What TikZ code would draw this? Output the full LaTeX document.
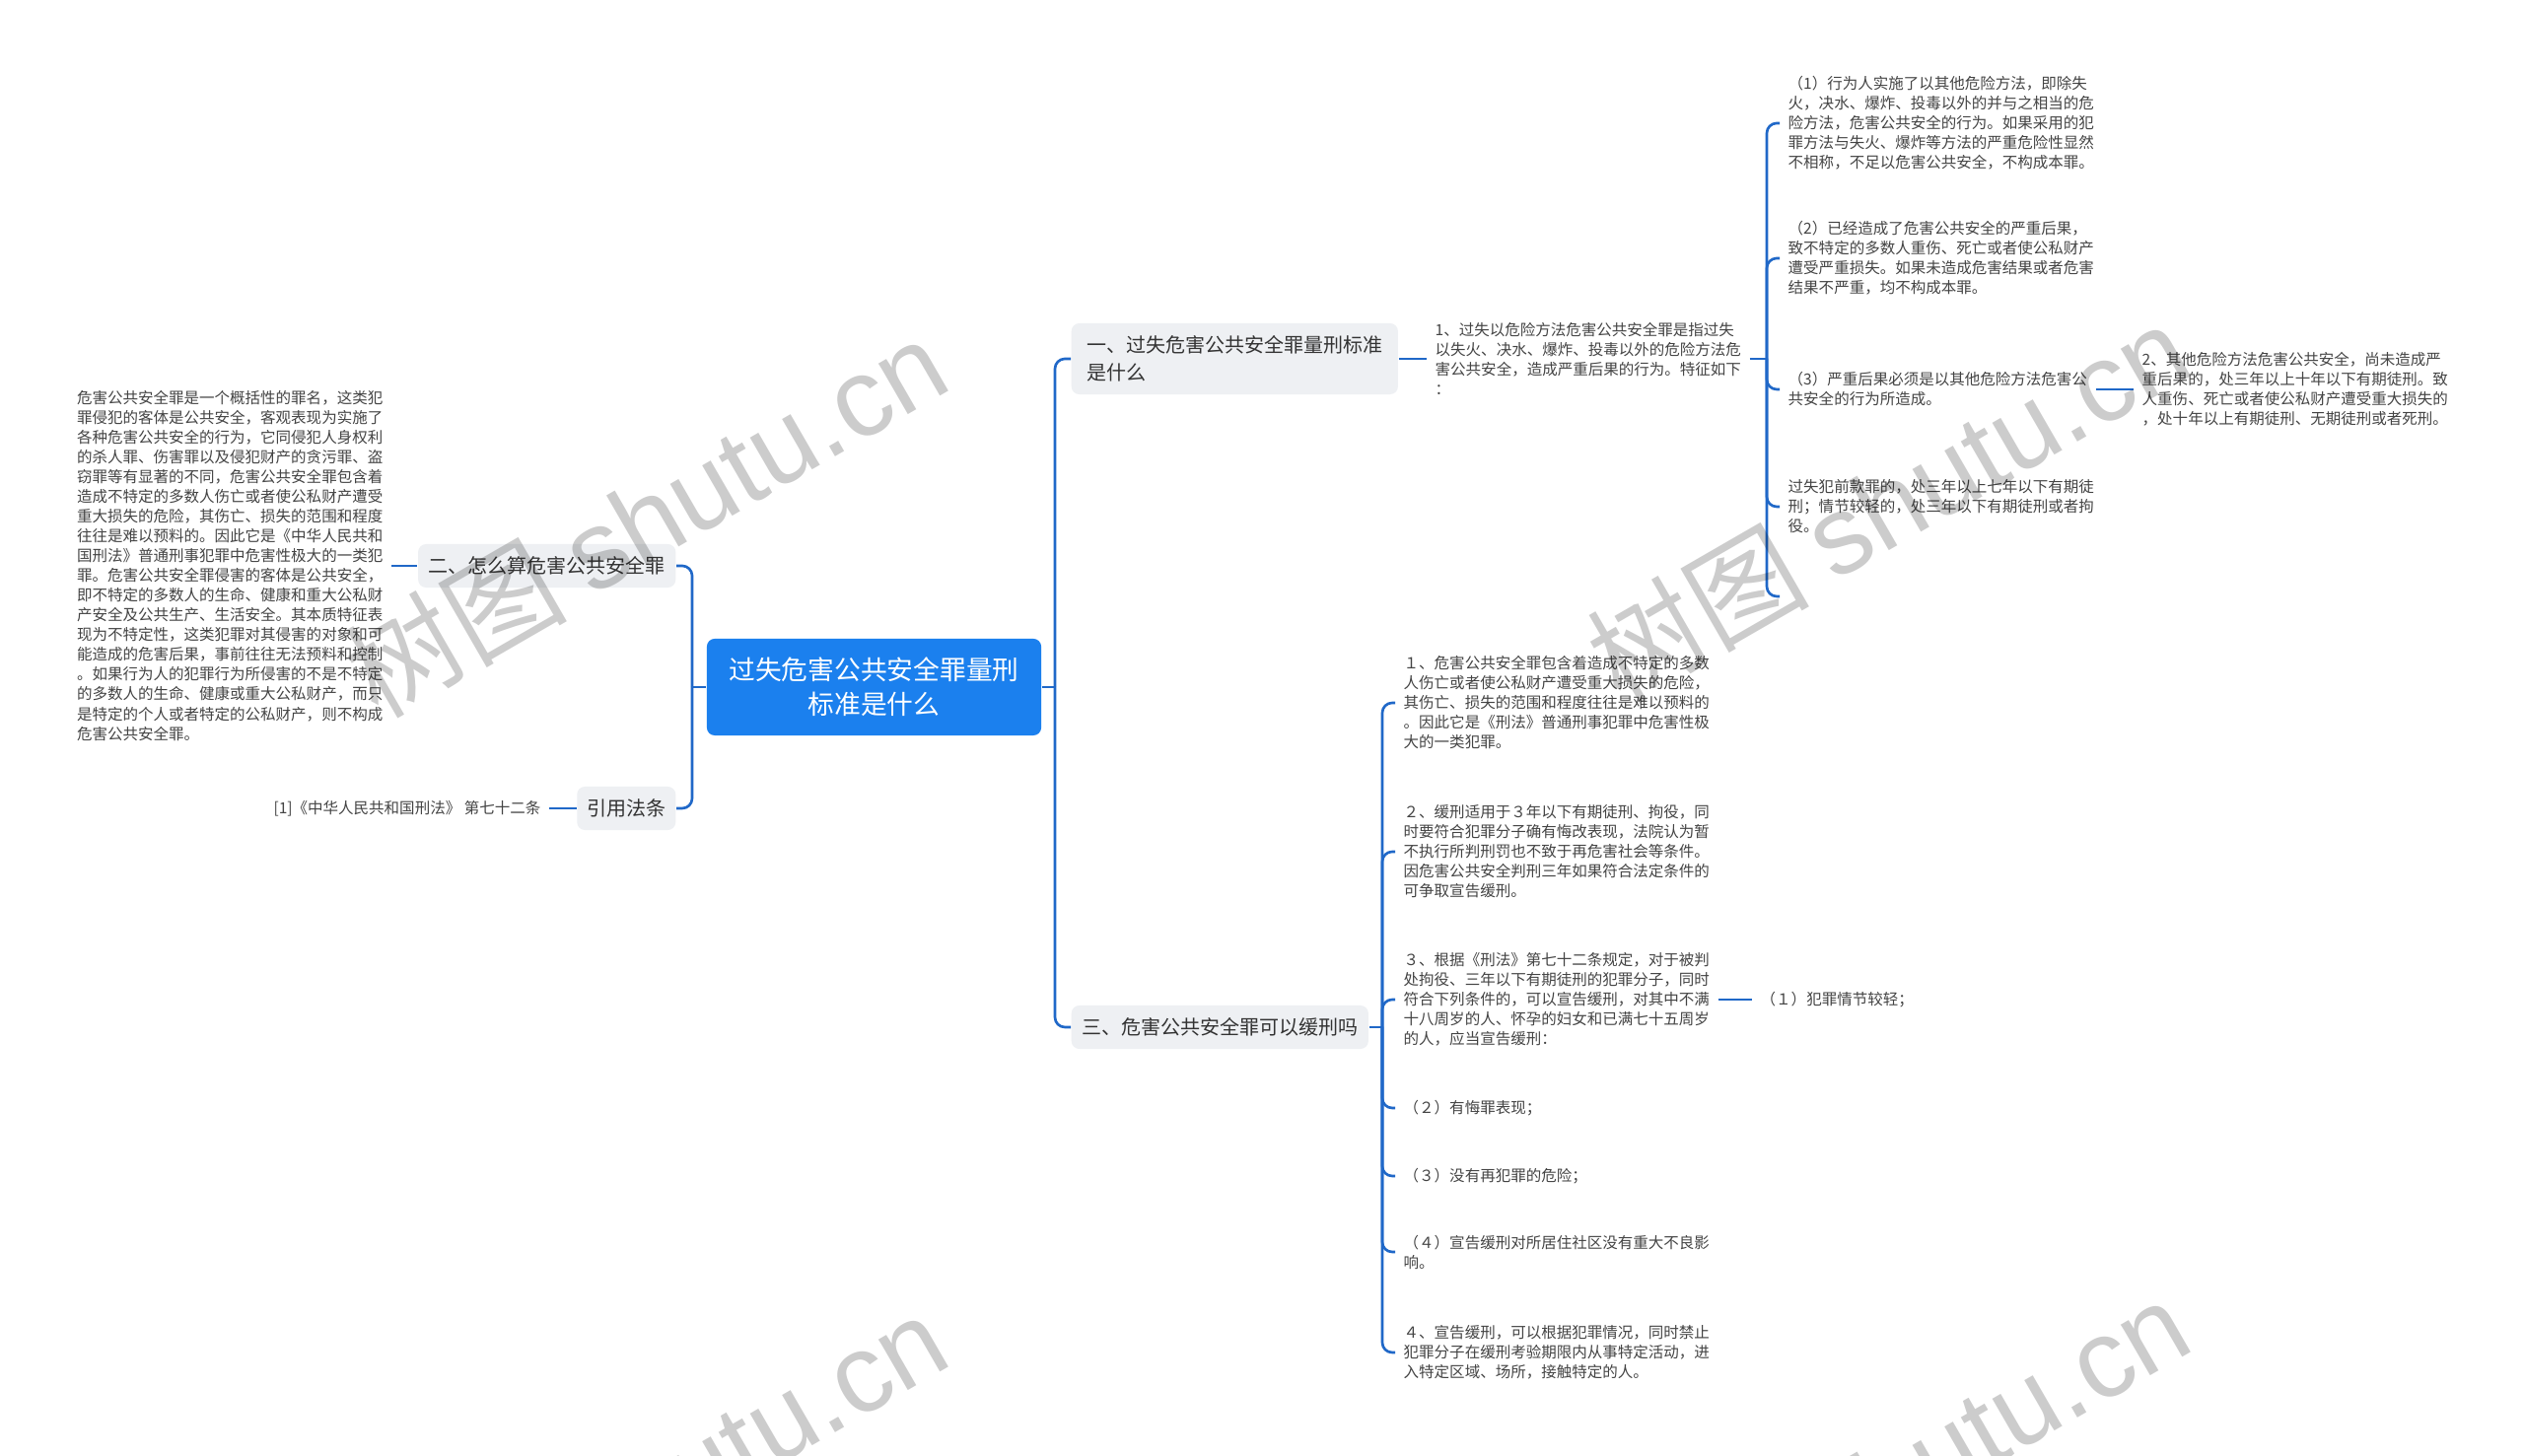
\documentclass[tikz,border=0pt]{standalone}
\usepackage{fontspec}
\setmainfont{Noto Sans CJK SC}
\newfontfamily\wmlatin{Liberation Sans}
\definecolor{linec}{HTML}{2068C8}
\definecolor{rootc}{HTML}{1B80EE}
\definecolor{topicc}{HTML}{EEF0F3}
\definecolor{textdark}{HTML}{333333}
\definecolor{textleaf}{HTML}{444444}
\tikzset{
  conn/.style={draw=linec, line width=0.75pt, rounded corners=0.1cm},
  rootnode/.style={fill=rootc, text=white, rounded corners=0.08cm, align=center,
    font=\fontsize{7.6}{9.96}\selectfont, minimum width=3.39cm, minimum height=0.98cm, inner sep=0pt},
  topic/.style={fill=topicc, text=textdark, rounded corners=0.08cm, align=left,
    font=\fontsize{5.69}{7.97}\selectfont, inner xsep=0.1cm, inner ysep=0pt, minimum height=0.44cm},
  leaf/.style={text=textleaf, align=left, font=\fontsize{4.41}{5.69}\selectfont,
    inner xsep=0.08cm, inner ysep=0.03cm},
  wm/.style={text=black, text opacity=0.2, font=\fontsize{32}{38}\selectfont, rotate=30, inner sep=0pt}
}
\begin{document}
\begin{tikzpicture}[x=0.01cm,y=0.01cm]
\useasboundingbox (0,0) rectangle (2560,-1477);
\fill[white] (0,0) rectangle (2560,-1477);

% root
\node[rootnode] (root) at (886.5,-697) {过失危害公共安全罪量刑\\标准是什么};

% left side
\node[topic, anchor=east, minimum width=2.61cm] (n2) at (686,-574) {二、怎么算危害公共安全罪};
\node[topic, anchor=east, minimum width=0.99cm] (nref) at (686,-820) {引用法条};
\node[leaf, anchor=east] (ltext) at (397,-574) {危害公共安全罪是一个概括性的罪名，这类犯\\罪侵犯的客体是公共安全，客观表现为实施了\\各种危害公共安全的行为，它同侵犯人身权利\\的杀人罪、伤害罪以及侵犯财产的贪污罪、盗\\窃罪等有显著的不同，危害公共安全罪包含着\\造成不特定的多数人伤亡或者使公私财产遭受\\重大损失的危险，其伤亡、损失的范围和程度\\往往是难以预料的。因此它是《中华人民共和\\国刑法》普通刑事犯罪中危害性极大的一类犯\\罪。危害公共安全罪侵害的客体是公共安全，\\即不特定的多数人的生命、健康和重大公私财\\产安全及公共生产、生活安全。其本质特征表\\现为不特定性，这类犯罪对其侵害的对象和可\\能造成的危害后果，事前往往无法预料和控制\\。如果行为人的犯罪行为所侵害的不是不特定\\的多数人的生命、健康或重大公私财产，而只\\是特定的个人或者特定的公私财产，则不构成\\危害公共安全罪。};
\node[leaf, anchor=east] (rtext) at (557,-820) {[1]《中华人民共和国刑法》 第七十二条};

\coordinate (tL) at (702,-697);
\draw[conn] (root.west) -- (tL);
\draw[conn] (tL) |- (n2.east);
\draw[conn] (tL) |- (nref.east);
\draw[conn] (ltext.east) -- (n2.west);
\draw[conn] (rtext.east) -- (nref.west);

% right side main topics
\node[topic, anchor=west, minimum width=3.31cm, minimum height=0.72cm] (n1) at (1086,-364) {一、过失危害公共安全罪量刑标准\\是什么};
\node[topic, anchor=west, minimum width=3.01cm] (n3) at (1086,-1042) {三、危害公共安全罪可以缓刑吗};

\coordinate (tR) at (1070,-697);
\draw[conn] (root.east) -- (tR);
\draw[conn] (tR) |- (n1.west);
\draw[conn] (tR) |- (n3.west);

% branch 1
\node[leaf, anchor=west] (t1) at (1447,-364) {1、过失以危险方法危害公共安全罪是指过失\\以失火、决水、爆炸、投毒以外的危险方法危\\害公共安全，造成严重后果的行为。特征如下\\：};
\draw[conn] (n1.east) -- (t1.west);
\coordinate (tA) at (1792,-364);
\draw[conn] (t1.east) -- (tA);

\node[leaf, anchor=west] (c11) at (1805,-125) {（1）行为人实施了以其他危险方法，即除失\\火，决水、爆炸、投毒以外的并与之相当的危\\险方法，危害公共安全的行为。如果采用的犯\\罪方法与失火、爆炸等方法的严重危险性显然\\不相称，不足以危害公共安全，不构成本罪。};
\node[leaf, anchor=west] (c12) at (1805,-262) {（2）已经造成了危害公共安全的严重后果，\\致不特定的多数人重伤、死亡或者使公私财产\\遭受严重损失。如果未造成危害结果或者危害\\结果不严重，均不构成本罪。};
\node[leaf, anchor=west] (c13) at (1805,-395) {（3）严重后果必须是以其他危险方法危害公\\共安全的行为所造成。};
\node[leaf, anchor=west] (c14) at (1805,-514) {过失犯前款罪的，处三年以上七年以下有期徒\\刑；情节较轻的，处三年以下有期徒刑或者拘\\役。};
\coordinate (e1) at (1805,-605);
\draw[conn] (tA) |- (c11.west);
\draw[conn] (tA) |- (c12.west);
\draw[conn] (tA) |- (c13.west);
\draw[conn] (tA) |- (c14.west);
\draw[conn] (tA) |- (e1);

\node[leaf, anchor=west] (c131) at (2164,-395) {2、其他危险方法危害公共安全，尚未造成严\\重后果的，处三年以上十年以下有期徒刑。致\\人重伤、死亡或者使公私财产遭受重大损失的\\，处十年以上有期徒刑、无期徒刑或者死刑。};
\draw[conn] (c13.east) -- (c131.west);

% branch 3
\coordinate (tB) at (1402,-1042);
\draw[conn] (n3.east) -- (tB);
\node[leaf, anchor=west] (c31) at (1415,-713) {１、危害公共安全罪包含着造成不特定的多数\\人伤亡或者使公私财产遭受重大损失的危险，\\其伤亡、损失的范围和程度往往是难以预料的\\。因此它是《刑法》普通刑事犯罪中危害性极\\大的一类犯罪。};
\node[leaf, anchor=west] (c32) at (1415,-864) {２、缓刑适用于３年以下有期徒刑、拘役，同\\时要符合犯罪分子确有悔改表现，法院认为暂\\不执行所判刑罚也不致于再危害社会等条件。\\因危害公共安全判刑三年如果符合法定条件的\\可争取宣告缓刑。};
\node[leaf, anchor=west] (c33) at (1415,-1014) {３、根据《刑法》第七十二条规定，对于被判\\处拘役、三年以下有期徒刑的犯罪分子，同时\\符合下列条件的，可以宣告缓刑，对其中不满\\十八周岁的人、怀孕的妇女和已满七十五周岁\\的人，应当宣告缓刑：};
\node[leaf, anchor=west] (c34) at (1415,-1124) {（２）有悔罪表现；};
\node[leaf, anchor=west] (c35) at (1415,-1193) {（３）没有再犯罪的危险；};
\node[leaf, anchor=west] (c36) at (1415,-1270) {（４）宣告缓刑对所居住社区没有重大不良影\\响。};
\node[leaf, anchor=west] (c37) at (1415,-1372) {４、宣告缓刑，可以根据犯罪情况，同时禁止\\犯罪分子在缓刑考验期限内从事特定活动，进\\入特定区域、场所，接触特定的人。};
\foreach \c in {c31,c32,c33,c34,c35,c36,c37}{
  \draw[conn] (tB) |- (\c.west);
}
\node[leaf, anchor=west] (c331) at (1777,-1014) {（１）犯罪情节较轻；};
\draw[conn] (c33.east) -- (c331.west);

% watermarks
\begin{scope}
\clip (0,0) rectangle (2560,-1477);
\node[wm] (wm1) at (655,-525) {树图 {\wmlatin shutu.cn}};
\node[wm] (wm2) at (1915,-510) {树图 {\wmlatin shutu.cn}};
\node[wm] (wm3) at (655,-1515) {树图 {\wmlatin shutu.cn}};
\node[wm] (wm4) at (1915,-1500) {树图 {\wmlatin shutu.cn}};
\end{scope}
\end{tikzpicture}
\end{document}
